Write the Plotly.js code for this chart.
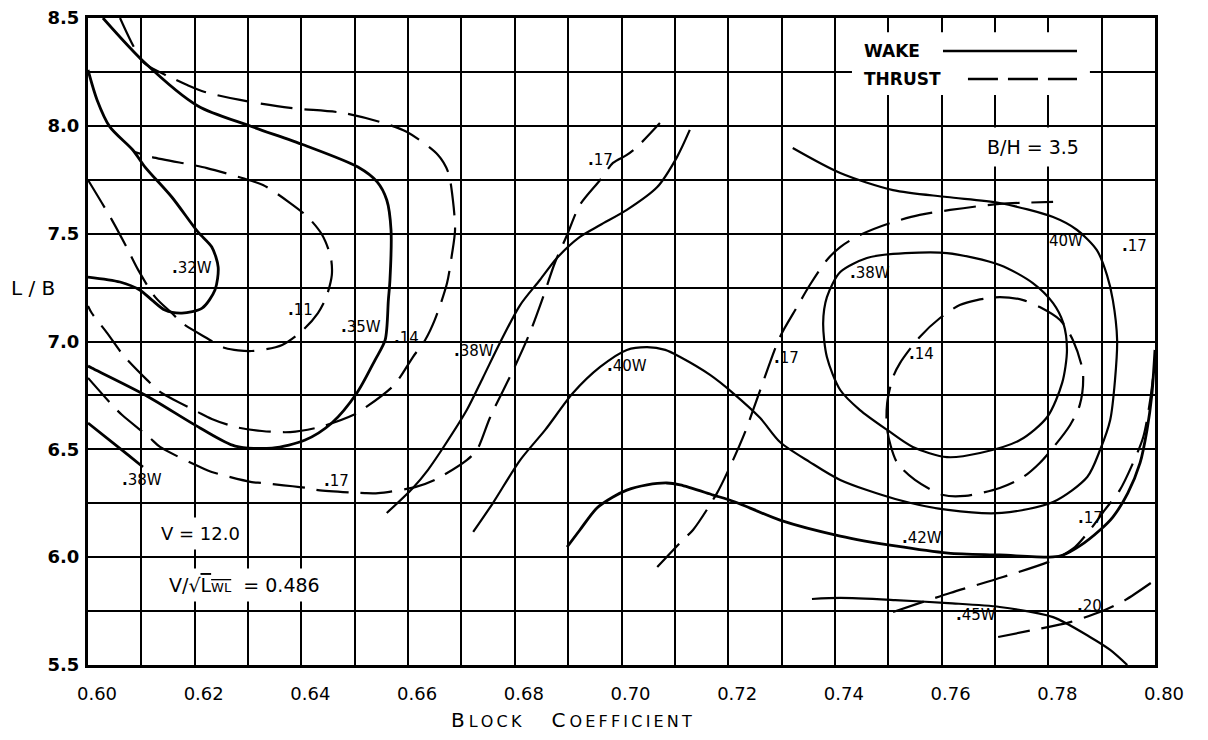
<!DOCTYPE html>
<html><head><meta charset="utf-8">
<script src="https://cdn.plot.ly/plotly-3.0.1.min.js"></script>
<style>html,body{margin:0;padding:0;background:#fff}#chart{width:1208px;height:740px}</style>
</head><body><div id="chart"></div>
<script>
// ---- axes / ticks ----
const xTickVals = [0.60,0.61,0.62,0.63,0.64,0.65,0.66,0.67,0.68,0.69,0.70,0.71,0.72,0.73,0.74,0.75,0.76,0.77,0.78,0.79,0.80];
const xTickText = ['0.60','','0.62','','0.64','','0.66','','0.68','','0.70','','0.72','','0.74','','0.76','','0.78','','0.80'];
const yTickVals = [5.5,5.75,6.0,6.25,6.5,6.75,7.0,7.25,7.5,7.75,8.0,8.25,8.5];
const yTickText = ['5.5','','6.0','','6.5','','7.0','','7.5','','8.0','','8.5'];

// ---- WAKE contours (solid) ----
const wake35_x = [0.6028,0.6105,0.6206,0.6304,0.6405,0.6506,0.6542,0.6560,0.6568,0.6566,0.6563,0.6557,0.6538,0.6504,0.6457,0.6407,0.6345,0.6276,0.6210,0.6107,0.6007,0.6000];
const wake35_y = [8.500,8.296,8.092,7.999,7.911,7.809,7.740,7.656,7.517,7.285,7.192,7.007,6.914,6.761,6.622,6.543,6.506,6.515,6.599,6.752,6.877,6.886];

const wake32_x = [0.6000,0.6017,0.6041,0.6084,0.6107,0.6157,0.6206,0.6232,0.6244,0.6238,0.6214,0.6176,0.6144,0.6120,0.6097,0.6060,0.6000];
const wake32_y = [8.259,8.120,7.995,7.888,7.809,7.670,7.508,7.438,7.345,7.239,7.155,7.132,7.146,7.192,7.239,7.276,7.299];

const wake38a_x = [0.6000,0.6075,0.6103];
const wake38a_y = [6.622,6.474,6.418];

const wake38b_x = [0.6560,0.6609,0.6637,0.6669,0.6710,0.6740,0.6772,0.6810,0.6847,0.6879,0.6922,0.6960,0.7010,0.7067,0.7104,0.7128];
const wake38b_y = [6.205,6.321,6.404,6.520,6.682,6.831,6.993,7.169,7.285,7.387,7.485,7.540,7.610,7.716,7.855,7.981];

const wake40_x = [0.6722,0.6759,0.6810,0.6857,0.6909,0.6960,0.7010,0.7048,0.7082,0.7110,0.7166,0.7209,0.7260,0.7297,0.7353,0.7410,0.7513,0.7612,0.7713,0.7809,0.7873,0.7897,0.7916,0.7925,0.7929,0.7921,0.7910,0.7891,0.7854,0.7809,0.7709,0.7610,0.7509,0.7410,0.7321];
const wake40_y = [6.117,6.251,6.450,6.590,6.761,6.882,6.961,6.974,6.961,6.928,6.845,6.761,6.645,6.534,6.441,6.358,6.270,6.219,6.205,6.256,6.372,6.497,6.636,6.821,7.007,7.192,7.308,7.424,7.517,7.577,7.642,7.670,7.702,7.781,7.897];

const wake38c_x = [0.7410,0.7460,0.7509,0.7610,0.7709,0.7771,0.7809,0.7828,0.7835,0.7826,0.7798,0.7747,0.7672,0.7610,0.7546,0.7498,0.7447,0.7410,0.7385,0.7378,0.7385,0.7410];
const wake38c_y = [7.322,7.387,7.406,7.410,7.355,7.271,7.178,7.086,6.961,6.808,6.650,6.543,6.483,6.464,6.511,6.590,6.682,6.775,6.928,7.086,7.206,7.322];

const wake42_x = [0.6898,0.6922,0.6954,0.6984,0.7010,0.7048,0.7085,0.7110,0.7172,0.7213,0.7297,0.7410,0.7513,0.7612,0.7709,0.7809,0.7828,0.7859,0.7897,0.7921,0.7949,0.7972,0.7985,0.7994,0.8000];
const wake42_y = [6.047,6.126,6.228,6.279,6.311,6.335,6.344,6.335,6.288,6.256,6.172,6.098,6.052,6.019,6.010,6.001,6.010,6.052,6.126,6.186,6.297,6.437,6.590,6.752,6.961];

const wake45_x = [0.7357,0.7410,0.7513,0.7612,0.7709,0.7809,0.7878,0.7916,0.7948];
const wake45_y = [5.806,5.811,5.801,5.787,5.769,5.722,5.630,5.570,5.500];

// ---- THRUST contours (dashed) ----
const thrust11_x = [0.6000,0.6045,0.6073,0.6094,0.6126,0.6157,0.6176,0.6219,0.6257,0.6307,0.6364,0.6403,0.6431,0.6446,0.6457,0.6455,0.6439,0.6412,0.6379,0.6328,0.6289,0.6223,0.6197,0.6120,0.6088];
const thrust11_y = [7.749,7.563,7.434,7.332,7.206,7.132,7.086,7.021,6.970,6.956,6.984,7.053,7.132,7.202,7.308,7.392,7.494,7.577,7.642,7.726,7.758,7.804,7.818,7.855,7.879];

const thrust14a_x = [0.6060,0.6084,0.6105,0.6154,0.6186,0.6219,0.6285,0.6379,0.6478,0.6547,0.6598,0.6656,0.6675,0.6684,0.6688,0.6682,0.6673,0.6650,0.6632,0.6609,0.6585,0.6570,0.6519,0.6497,0.6435,0.6379,0.6326,0.6276,0.6232,0.6206,0.6135,0.6111,0.6066,0.6036,0.6007,0.6000];
const thrust14a_y = [8.500,8.375,8.291,8.226,8.189,8.157,8.120,8.083,8.060,8.018,7.971,7.865,7.786,7.656,7.517,7.401,7.271,7.100,7.007,6.928,6.835,6.789,6.692,6.659,6.604,6.580,6.585,6.604,6.641,6.673,6.766,6.821,6.937,7.039,7.132,7.165];

const thrust17a_x = [0.6000,0.6045,0.6064,0.6116,0.6135,0.6210,0.6232,0.6307,0.6326,0.6410,0.6431,0.6519,0.6544,0.6613,0.6650,0.6710,0.6729,0.6754,0.6797,0.6828,0.6853,0.6875,0.6898,0.6922,0.6960,0.6984,0.7010,0.7029,0.7072];
const thrust17a_y = [6.831,6.706,6.659,6.553,6.511,6.418,6.395,6.348,6.344,6.321,6.311,6.297,6.297,6.325,6.358,6.450,6.497,6.650,6.868,7.039,7.206,7.364,7.494,7.633,7.749,7.828,7.865,7.902,8.013];

const thrust17b_x = [0.7067,0.7115,0.7134,0.7179,0.7209,0.7231,0.7260,0.7297,0.7329,0.7353,0.7385,0.7410,0.7447,0.7503,0.7559,0.7616,0.7709,0.7809];
const thrust17b_y = [5.954,6.080,6.126,6.297,6.450,6.576,6.775,7.021,7.160,7.262,7.378,7.438,7.494,7.549,7.587,7.610,7.638,7.647];

const thrust14b_x = [0.7522,0.7559,0.7597,0.7634,0.7666,0.7709,0.7753,0.7784,0.7822,0.7846,0.7865,0.7859,0.7841,0.7813,0.7784,0.7753,0.7709,0.7644,0.7603,0.7550,0.7516,0.7498,0.7498,0.7509,0.7522];
const thrust14b_y = [6.900,7.021,7.109,7.169,7.192,7.206,7.192,7.160,7.100,7.007,6.854,6.706,6.613,6.520,6.437,6.372,6.321,6.284,6.288,6.358,6.441,6.590,6.715,6.835,6.900];

const thrust17c_x = [0.7509,0.7616,0.7715,0.7809,0.7850,0.7878,0.7906,0.7934,0.7957,0.7978,0.7991,0.8000];
const thrust17c_y = [5.746,5.834,5.908,5.987,6.047,6.126,6.219,6.311,6.427,6.557,6.729,6.914];

const thrust20_x = [0.7706,0.7771,0.7841,0.7906,0.7944,0.8000];
const thrust20_y = [5.630,5.662,5.699,5.755,5.801,5.894];

// ---- contour labels ----
const labelText = ['.32W','.11','.35W','.14','.38W','.40W','.17','.17','.38W','.14','40W','.17','.17','.42W','.45W','.20','.38W','.17'];
const labelX = [0.6154,0.6371,0.6470,0.6570,0.6682,0.6969,0.7282,0.6933,0.7425,0.7535,0.7798,0.7934,0.7852,0.7522,0.7623,0.7850,0.6060,0.6439];
const labelY = [7.341,7.146,7.067,7.016,6.956,6.886,6.923,7.842,7.318,6.942,7.466,7.443,6.182,6.089,5.732,5.774,6.358,6.353];

const curves = [
  {x: wake35_x, y: wake35_y, kind: 'wake', heavy: true},
  {x: wake32_x, y: wake32_y, kind: 'wake', heavy: true},
  {x: wake38a_x, y: wake38a_y, kind: 'wake', heavy: true},
  {x: wake38b_x, y: wake38b_y, kind: 'wake'},
  {x: wake40_x, y: wake40_y, kind: 'wake'},
  {x: wake38c_x, y: wake38c_y, kind: 'wake'},
  {x: wake42_x, y: wake42_y, kind: 'wake', heavy: true},
  {x: wake45_x, y: wake45_y, kind: 'wake'},
  {x: thrust11_x, y: thrust11_y, kind: 'thrust'},
  {x: thrust14a_x, y: thrust14a_y, kind: 'thrust'},
  {x: thrust17a_x, y: thrust17a_y, kind: 'thrust'},
  {x: thrust17b_x, y: thrust17b_y, kind: 'thrust'},
  {x: thrust14b_x, y: thrust14b_y, kind: 'thrust'},
  {x: thrust17c_x, y: thrust17c_y, kind: 'thrust'},
  {x: thrust20_x, y: thrust20_y, kind: 'thrust'}
];

const traces = curves.map(c => ({
  type: 'scatter', mode: 'lines', x: c.x, y: c.y, hoverinfo: 'skip', showlegend: false,
  line: {color: '#000', width: c.heavy ? 2.8 : 2.2, shape: 'spline', smoothing: 0.8,
         dash: c.kind === 'thrust' ? '32px,12px' : 'solid'}
}));

const F = 'DejaVu Sans, Liberation Sans, sans-serif';
const annotations = labelText.map((t, i) => ({
  x: labelX[i], y: labelY[i], xref: 'x', yref: 'y',
  text: t.charAt(0) === '.' ? '<b>.</b>' + t.slice(1) : t, showarrow: false,
  xanchor: 'left', yanchor: 'middle', font: {family: F, size: 15, color: '#000'}
}));

const s = '\u2009';
annotations.push(
  {xref: 'paper', yref: 'paper', x: 0.4527, y: -0.085, showarrow: false, xanchor: 'center', yanchor: 'middle',
   text: 'B' + s + '<span style="font-size:16px">L' + s + 'O' + s + 'C' + s + 'K</span>\u2003\u2002C' + s +
         '<span style="font-size:16px">O' + s + 'E' + s + 'F' + s + 'F' + s + 'I' + s + 'C' + s + 'I' + s + 'E' + s + 'N' + s + 'T</span>',
   font: {family: F, size: 20, color: '#000'}},
  {xref: 'paper', yref: 'paper', x: -0.0515, y: 0.5827, showarrow: false, xanchor: 'center', yanchor: 'middle',
   text: 'L / B', font: {family: F, size: 20, color: '#000'}},
  {xref: 'paper', yref: 'paper', x: 0.725, y: 0.949, showarrow: false, xanchor: 'left', yanchor: 'middle',
   text: '<b>WAKE</b>', font: {family: F, size: 17, color: '#000'}},
  {xref: 'paper', yref: 'paper', x: 0.725, y: 0.906, showarrow: false, xanchor: 'left', yanchor: 'middle',
   text: '<b>THRUST</b>', font: {family: F, size: 17, color: '#000'}},
  {xref: 'paper', yref: 'paper', x: 0.8857, y: 0.8006, showarrow: false, xanchor: 'center', yanchor: 'middle',
   text: 'B/H = 3.5', bgcolor: '#fff', borderpad: 8, font: {family: F, size: 19, color: '#000'}},
  {xref: 'paper', yref: 'paper', x: 0.1059, y: 0.204, showarrow: false, xanchor: 'center', yanchor: 'middle',
   text: 'V = 12.0', bgcolor: '#fff', borderpad: 5, font: {family: F, size: 18, color: '#000'}},
  {xref: 'paper', yref: 'paper', x: 0.1471, y: 0.1236, showarrow: false, xanchor: 'center', yanchor: 'middle',
   text: 'V/\u221A<span style="text-decoration:overline">L<span style="font-size:13px">WL</span></span>  = 0.486',
   bgcolor: '#fff', borderpad: 5, font: {family: F, size: 19, color: '#000'}}
);

const shapes = [
  {type: 'rect', xref: 'paper', yref: 'paper', x0: 0.716, x1: 0.939, y0: 0.881, y1: 0.978,
   fillcolor: '#fff', line: {width: 0}, layer: 'above'},
  {type: 'line', xref: 'paper', yref: 'paper', x0: 0.8013, x1: 0.9269, y0: 0.949, y1: 0.949,
   line: {color: '#000', width: 2.6}, layer: 'above'},
  {type: 'line', xref: 'paper', yref: 'paper', x0: 0.8247, x1: 0.9269, y0: 0.9057, y1: 0.9057,
   line: {color: '#000', width: 2.6, dash: '30px,10px'}, layer: 'above'}
];

const layout = {
  width: 1208, height: 740,
  margin: {l: 88, r: 53, t: 18, b: 75},
  paper_bgcolor: '#fff', plot_bgcolor: '#fff',
  showlegend: false,
  xaxis: {
    range: [0.60, 0.80], tickmode: 'array', tickvals: xTickVals, ticktext: xTickText,
    showgrid: true, gridcolor: '#000', gridwidth: 2, zeroline: false,
    showline: true, linecolor: '#000', linewidth: 3, mirror: true, ticks: '',
    ticklabelshift: 9, ticklabelstandoff: 10,
    tickfont: {family: F, size: 18, color: '#000'}
  },
  yaxis: {
    range: [5.5, 8.5], tickmode: 'array', tickvals: yTickVals, ticktext: yTickText,
    showgrid: true, gridcolor: '#000', gridwidth: 2, zeroline: false,
    showline: true, linecolor: '#000', linewidth: 3, mirror: true, ticks: '',
    ticklabelstandoff: 2,
    tickfont: {family: F, size: 18, color: '#000', weight: 'bold'}
  },
  annotations: annotations,
  shapes: shapes
};

Plotly.newPlot('chart', traces, layout, {staticPlot: true, displayModeBar: false});
</script>
</body></html>
